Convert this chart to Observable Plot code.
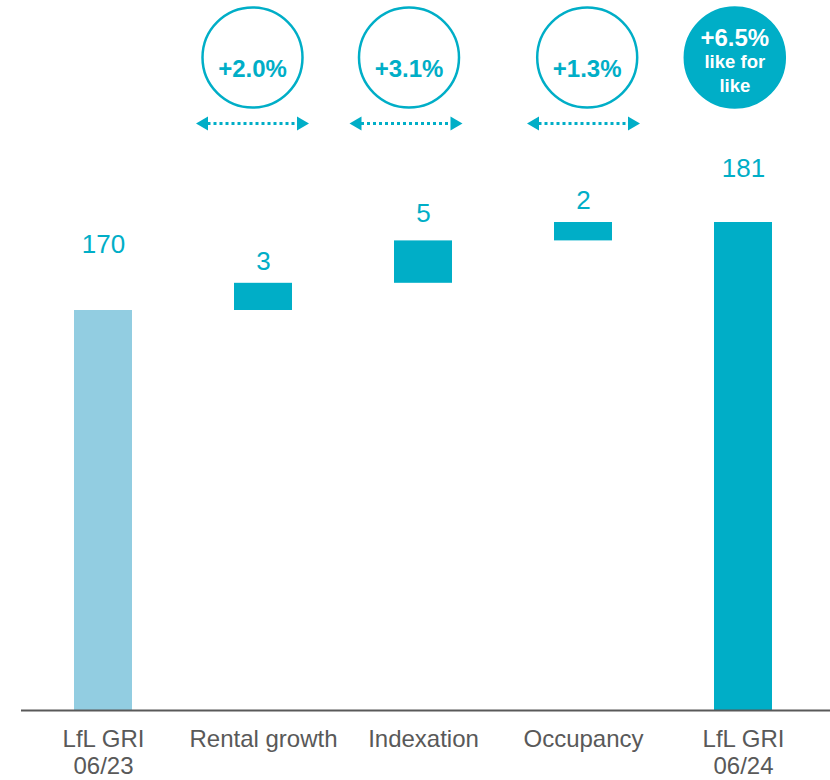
<!DOCTYPE html>
<html>
<head>
<meta charset="utf-8">
<script src="https://cdn.jsdelivr.net/npm/d3@7"></script>
<script src="https://cdn.jsdelivr.net/npm/@observablehq/plot@0.6"></script>
<style>
  html, body { margin: 0; padding: 0; background: #fff; }
  #chart svg { display: block; }
</style>
</head>
<body>
<div id="chart"></div>
<script>
// ---- data ----
const categories = ["LfL GRI 06/23", "Rental growth", "Indexation", "Occupancy", "LfL GRI 06/24"];
const axisLabels = ["LfL GRI\n06/23", "Rental growth", "Indexation", "Occupancy", "LfL GRI\n06/24"];
const stepValues = [170, 3.4, 5.3, 2.3, 181];
const stepKinds = ["start", "delta", "delta", "delta", "total"];
const valueLabels = ["170", "3", "5", "2", "181"];
const pctCategories = ["Rental growth", "Indexation", "Occupancy", "LfL GRI 06/24"];
const pctLabels = ["+2.0%", "+3.1%", "+1.3%", "+6.5%"];
const totalNote = "like for\nlike";

// ---- scale config ----
const Y0 = 120, YMAX = 208.75;
const TEAL = "#00AEC7", LIGHT = "#92CDE1", GREY = "#595959";

// build waterfall rows
let running = 0;
const rows = categories.map((c, i) => {
  let y1, y2;
  if (stepKinds[i] === "delta") { y1 = running; y2 = running + stepValues[i]; running = y2; }
  else { y1 = Y0; y2 = stepValues[i]; running = stepValues[i]; }
  return { cat: c, y1, y2, kind: stepKinds[i], label: valueLabels[i], axis: axisLabels[i] };
});

// ---- layout offsets (pixels) ----
const labelDy = [-58, -13, -19, -14, -46];
const circleDx = [-11, -14.5, 3.7, -8.7];
const arrowDx = [-11, -17.5, 0];

const marks = [
  Plot.rectY(rows, {
    x: "cat", y1: "y1", y2: "y2",
    fill: d => d.kind === "start" ? LIGHT : TEAL
  }),
  Plot.ruleY([Y0], { stroke: GREY, strokeWidth: 2, insetLeft: 5 }),
  ...rows.map((r, i) => Plot.text([r], {
    x: "cat", y: "y2", text: "label", dy: labelDy[i],
    lineAnchor: "bottom", fontSize: 26, fill: TEAL
  })),
  Plot.text(rows, {
    x: "cat", text: "axis", frameAnchor: "bottom", lineAnchor: "top",
    dy: 17, fontSize: 24, lineHeight: 1.13, fill: GREY
  }),
  // percentage circles
  ...pctCategories.map((c, i) => Plot.dot([c], {
    x: d => d, frameAnchor: "top", dy: 57, dx: circleDx[i], r: 50,
    stroke: TEAL, strokeWidth: 2.5, fill: i === 3 ? TEAL : "white"
  })),
  ...pctCategories.slice(0, 3).map((c, i) => Plot.text([c], {
    x: d => d, frameAnchor: "top", dy: 59, dx: circleDx[i], text: () => pctLabels[i],
    fontSize: 24, fontWeight: "bold", fill: TEAL
  })),
  Plot.text([pctCategories[3]], {
    x: d => d, frameAnchor: "top", dy: 45, dx: circleDx[3], text: () => pctLabels[3],
    lineAnchor: "bottom", fontSize: 24, fontWeight: "bold", fill: "white"
  }),
  Plot.text([pctCategories[3]], {
    x: d => d, frameAnchor: "top", dy: 91, dx: circleDx[3], text: () => totalNote,
    lineAnchor: "bottom", lineHeight: 1.25, fontSize: 18.5, fontWeight: "bold", fill: "white"
  }),
  // double-headed dotted arrows
  ...pctCategories.slice(0, 3).map((c, i) => Plot.tickY([c], {
    x: d => d, y: () => YMAX, dy: 123, dx: arrowDx[i],
    insetLeft: -15.5, insetRight: -15.5,
    stroke: TEAL, strokeWidth: 3, strokeDasharray: "3,3"
  })),
  ...pctCategories.slice(0, 3).map((c, i) => Plot.dot([c], {
    x: d => d, frameAnchor: "top", dy: 123, dx: arrowDx[i] - 48.5,
    symbol: "triangle", rotate: -90, r: 5.14, fill: TEAL, stroke: "none"
  })),
  ...pctCategories.slice(0, 3).map((c, i) => Plot.dot([c], {
    x: d => d, frameAnchor: "top", dy: 123, dx: arrowDx[i] + 48.5,
    symbol: "triangle", rotate: 90, r: 5.14, fill: TEAL, stroke: "none"
  }))
];

const chart = Plot.plot({
  width: 830,
  height: 780,
  marginTop: 0,
  marginBottom: 70,
  marginLeft: 16,
  marginRight: 0,
  x: { domain: categories, paddingInner: 0.6386, paddingOuter: 0.3551, axis: null },
  y: { domain: [Y0, YMAX], axis: null },
  style: { fontFamily: "'Liberation Sans', Arial, Helvetica, sans-serif", background: "white", overflow: "visible" },
  marks
});
document.getElementById("chart").appendChild(chart);
</script>
</body>
</html>
